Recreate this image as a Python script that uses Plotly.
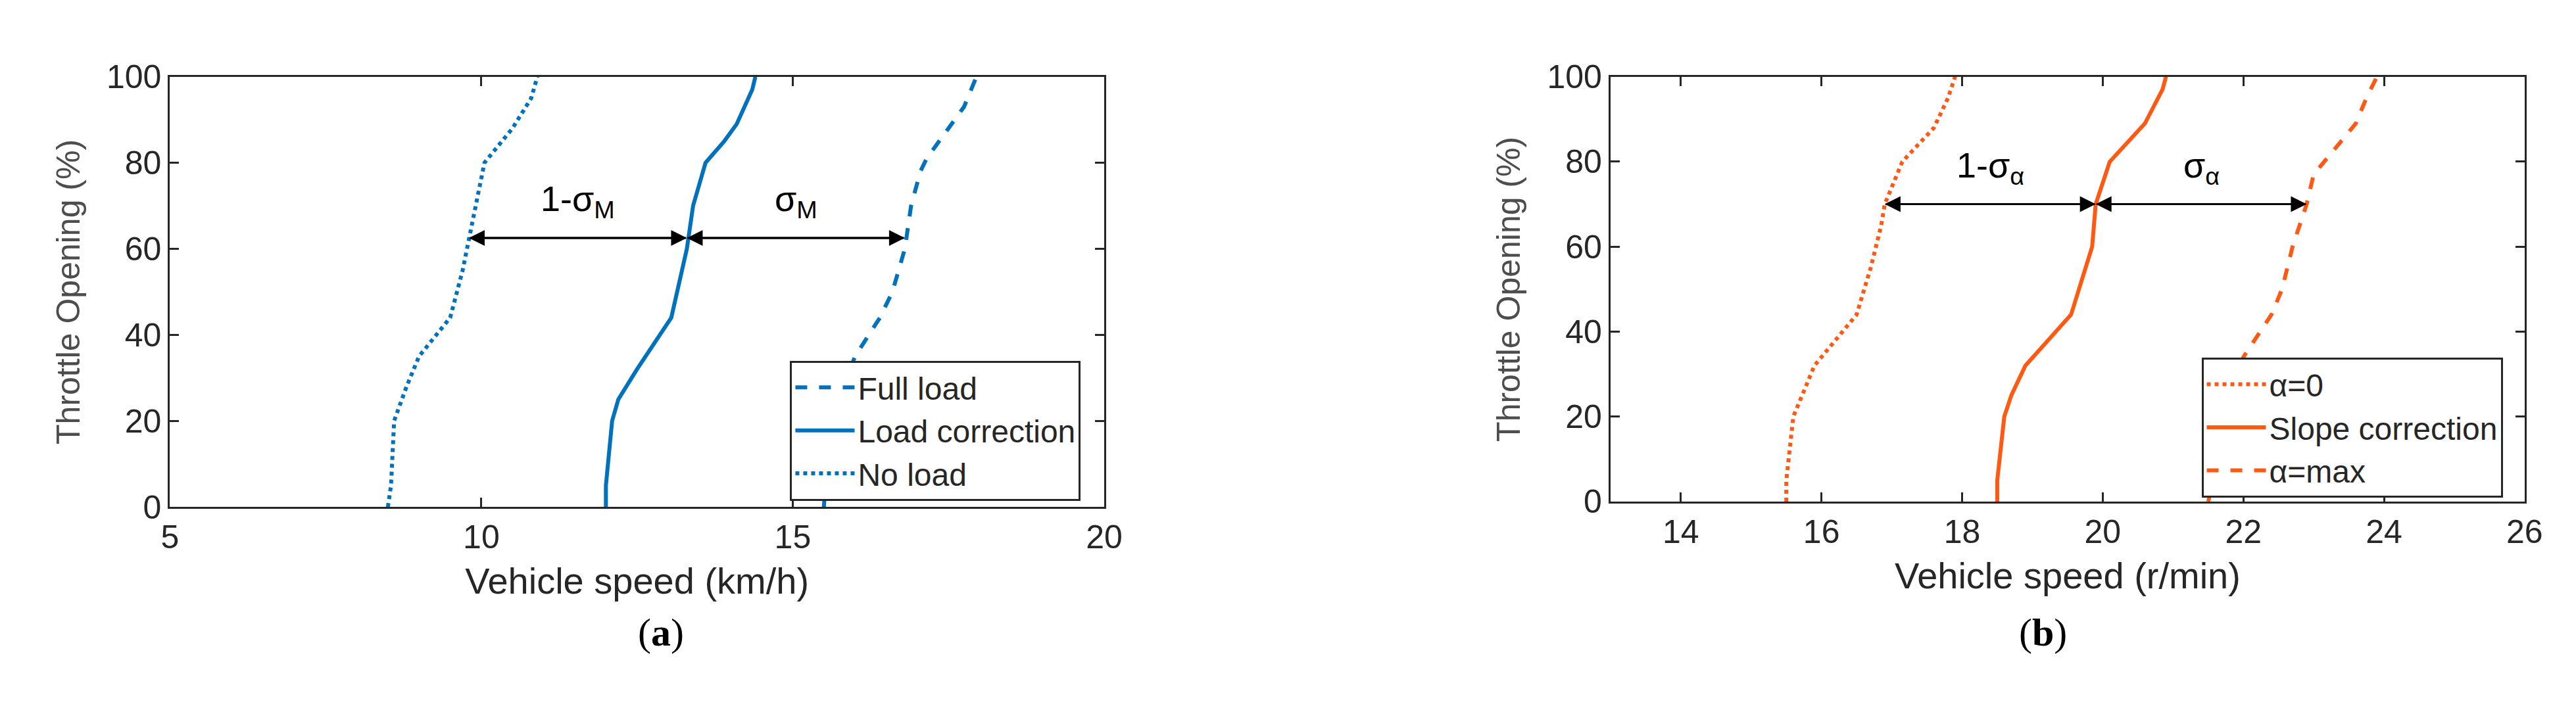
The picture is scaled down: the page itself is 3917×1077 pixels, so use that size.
import plotly.graph_objects as go

BLUE = "#0072BD"
ORANGE = "#FF5A14"

# Panel (a)
y_full = [0, 20, 35, 44, 50, 60, 70, 78, 81, 88, 93, 100]
x_full = [15.5, 15.6, 16.0, 16.4, 16.6, 16.8, 16.9, 17.05, 17.15, 17.5, 17.75, 17.95]
y_loadc = [0, 5, 20, 25, 32, 44, 60, 70, 80, 85, 89, 97, 100]
x_loadc = [12.0, 12.0, 12.1, 12.2, 12.5, 13.05, 13.3, 13.4, 13.6, 13.9, 14.1, 14.35, 14.4]
y_noload = [0, 5, 20, 28, 35, 44, 55, 62, 70, 80, 88, 95, 100]
x_noload = [8.5, 8.55, 8.6, 8.8, 9.0, 9.5, 9.7, 9.8, 9.9, 10.05, 10.5, 10.8, 10.9]

# Panel (b)
y_a0 = [0, 5, 20, 32, 44, 55, 65, 70, 80, 88, 95, 100]
x_a0 = [15.5, 15.5, 15.6, 15.9, 16.5, 16.7, 16.85, 16.9, 17.15, 17.6, 17.8, 17.9]
y_slope = [0, 5, 20, 25, 32, 44, 60, 70, 80, 89, 97, 100]
x_slope = [18.5, 18.5, 18.6, 18.7, 18.9, 19.55, 19.85, 19.9, 20.1, 20.6, 20.85, 20.9]
y_amax = [0, 34, 44, 50, 60, 70, 77, 81, 89, 95, 100]
x_amax = [21.5, 22.0, 22.4, 22.55, 22.7, 22.9, 23.0, 23.2, 23.6, 23.75, 23.9]

arrow_a = {"y": 62.5, "left": 9.8, "mid": 13.3, "right": 16.8}
arrow_b = {"y": 70, "left": 16.9, "mid": 19.9, "right": 22.9}

FONT = "Liberation Sans Narrow, Arial Narrow, Liberation Sans, sans-serif"
fig = go.Figure()
W = 6
fig.add_trace(go.Scatter(x=x_full, y=y_full, mode="lines", name="Full load",
                         line=dict(color=BLUE, width=W, dash="dash"), xaxis="x", yaxis="y", legend="legend"))
fig.add_trace(go.Scatter(x=x_loadc, y=y_loadc, mode="lines", name="Load correction",
                         line=dict(color=BLUE, width=W), xaxis="x", yaxis="y", legend="legend"))
fig.add_trace(go.Scatter(x=x_noload, y=y_noload, mode="lines", name="No load",
                         line=dict(color=BLUE, width=W, dash="dot"), xaxis="x", yaxis="y", legend="legend"))
fig.add_trace(go.Scatter(x=x_a0, y=y_a0, mode="lines", name="α=0",
                         line=dict(color=ORANGE, width=W, dash="dot"), xaxis="x2", yaxis="y2", legend="legend2"))
fig.add_trace(go.Scatter(x=x_slope, y=y_slope, mode="lines", name="Slope correction",
                         line=dict(color=ORANGE, width=W), xaxis="x2", yaxis="y2", legend="legend2"))
fig.add_trace(go.Scatter(x=x_amax, y=y_amax, mode="lines", name="α=max",
                         line=dict(color=ORANGE, width=W, dash="dash"), xaxis="x2", yaxis="y2", legend="legend2"))

axcommon = dict(showline=True, linecolor="#262626", linewidth=3, mirror="ticks", ticks="inside",
                ticklen=14, tickwidth=3, tickcolor="#262626", showgrid=False, zeroline=False,
                tickfont=dict(family=FONT, size=50, color="#262626"))
ytitle = dict(text="Throttle Opening (%)", font=dict(family="Liberation Sans, Arial", size=50, color="#4d4d4d"), standoff=25)
xtfont = dict(family=FONT, size=56, color="#262626")

fig.update_layout(
    width=3917, height=1077, margin=dict(l=0, r=0, t=0, b=0),
    paper_bgcolor="white", plot_bgcolor="white",
    xaxis=dict(domain=[0.061, 0.4276], range=[5, 20], tickvals=[5, 10, 15, 20], anchor="y",
               title=dict(text="Vehicle speed (km/h)", font=xtfont, standoff=20), **axcommon),
    yaxis=dict(domain=[0.279, 0.92], range=[0, 100], tickvals=[0, 20, 40, 60, 80, 100], anchor="x",
               title=ytitle, **axcommon),
    xaxis2=dict(domain=[0.6263, 0.985], range=[13, 26], tickvals=[14, 16, 18, 20, 22, 24, 26], anchor="y2",
                title=dict(text="Vehicle speed (r/min)", font=xtfont, standoff=20), **axcommon),
    yaxis2=dict(domain=[0.287, 0.92], range=[0, 100], tickvals=[0, 20, 40, 60, 80, 100], anchor="x2",
                title=ytitle, **axcommon),
    legend=dict(x=0.975 * 0.3666 + 0.061, xanchor="right", y=0.279 + 0.34 * 0.641, yanchor="top",
                bordercolor="#262626", borderwidth=3, bgcolor="white", itemwidth=90,
                font=dict(family=FONT, size=48, color="#262626")),
    legend2=dict(x=0.6263 + 0.976 * 0.3587, xanchor="right", y=0.287 + 0.339 * 0.633, yanchor="top",
                 bordercolor="#262626", borderwidth=3, bgcolor="white", itemwidth=90,
                 font=dict(family=FONT, size=48, color="#262626")),
    showlegend=True,
)

def arrows(ax_x, ax_y, d, lab1, lab2):
    for a, b in [(d["mid"], d["left"]), (d["left"], d["mid"]), (d["mid"], d["right"]), (d["right"], d["mid"])]:
        fig.add_annotation(x=b, y=d["y"], ax=a, ay=d["y"], xref=ax_x, yref=ax_y, axref=ax_x, ayref=ax_y,
                           text="", showarrow=True, arrowhead=2, arrowsize=1.6, arrowwidth=3, arrowcolor="black")
    fig.add_annotation(x=(d["left"] + d["mid"]) / 2, y=d["y"] + 3, xref=ax_x, yref=ax_y, text=lab1,
                       showarrow=False, yanchor="bottom", font=dict(family=FONT, size=54, color="black"))
    fig.add_annotation(x=(d["right"] + d["mid"]) / 2, y=d["y"] + 3, xref=ax_x, yref=ax_y, text=lab2,
                       showarrow=False, yanchor="bottom", font=dict(family=FONT, size=54, color="black"))

arrows("x", "y", arrow_a, "1-σ<sub>M</sub>", "σ<sub>M</sub>")
arrows("x2", "y2", arrow_b, "1-σ<sub>α</sub>", "σ<sub>α</sub>")

for xc, lab in [(0.244, "a"), (0.806, "b")]:
    fig.add_annotation(x=xc, y=1 - 1015 / 1077, xref="paper", yref="paper", showarrow=False,
                       text=f"(<b>{lab}</b>)", font=dict(family="Liberation Serif, Times New Roman, serif", size=60, color="black"))

fig.write_html("out.html")
